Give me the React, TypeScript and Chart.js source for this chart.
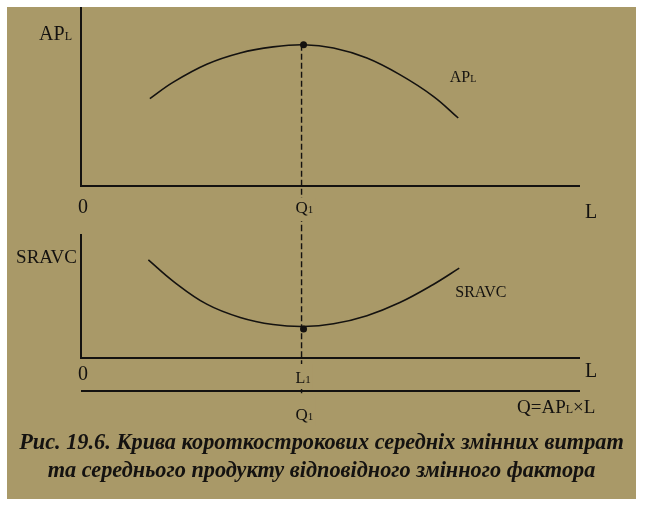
import React, { useEffect, useRef } from "react";
import { Chart, registerables } from "chart.js";

Chart.register(...registerables);

// ---- data (abstract units: labour L on x, AP_L / SRAVC on y) ----
const L_MIN = 0;
const L_MAX = 10;
const Q1 = 4.42;

const apL = [1.38, 1.85, 2.52, 3.19, 3.85, 4.46, 5.06, 5.73, 6.39, 7.06, 7.56];
const apValues = [4.88, 5.8, 6.8, 7.43, 7.77, 7.89, 7.71, 7.15, 6.22, 5.01, 3.8];
const apPeak = { x: 4.46, y: 7.89 };
const AP_MAX = 10;

const sravcL = [1.35, 1.85, 2.52, 3.19, 3.85, 4.46, 5.06, 5.73, 6.39, 7.06, 7.58];
const sravcValues = [5.54, 4.33, 3.04, 2.29, 1.89, 1.78, 1.93, 2.39, 3.13, 4.15, 5.07];
const sravcMin = { x: 4.46, y: 1.64 };
const SRAVC_MAX = 7;

const apLabelAnchor = { x: 7.39, y: 5.81 };
const sravcLabelAnchor = { x: 7.5, y: 3.44 };

const CAPTION_1 = "Рис. 19.6. Крива короткострокових середніх змінних витрат";
const CAPTION_2 = "та середнього продукту відповідного змінного фактора";

const PANEL = "#a99968";
const INK = "#141210";
const FONT = '"Liberation Serif", "Times New Roman", serif';

type Run = [string, number];

function drawRuns(
  ctx: CanvasRenderingContext2D,
  x: number,
  y: number,
  runs: Run[],
  align: "left" | "right" | "center",
  bg?: [number, number, number, number]
) {
  let total = 0;
  const widths: number[] = [];
  for (const [t, s] of runs) {
    ctx.font = `${s}px ${FONT}`;
    const w = ctx.measureText(t).width;
    widths.push(w);
    total += w;
  }
  let sx = x;
  if (align === "right") sx = x - total;
  if (align === "center") sx = x - total / 2;
  if (bg) {
    ctx.fillStyle = PANEL;
    ctx.fillRect(sx - bg[0], y - bg[1], total + bg[0] + bg[2], bg[1] + bg[3]);
  }
  ctx.fillStyle = INK;
  ctx.textBaseline = "alphabetic";
  ctx.textAlign = "left";
  runs.forEach(([t, s], i) => {
    ctx.font = `${s}px ${FONT}`;
    ctx.fillText(t, sx, y);
    sx += widths[i];
  });
}

function axesPlugin(kind: "top" | "bottom") {
  return {
    id: "econAxes" + kind,
    beforeDatasetsDraw(chart: any) {
      const { ctx, scales } = chart;
      const xs = scales.x;
      const ys = scales.y;
      const x0 = xs.getPixelForValue(L_MIN);
      const x1 = xs.getPixelForValue(L_MAX);
      const y0 = ys.getPixelForValue(0);
      const yT = ys.getPixelForValue(ys.max);
      ctx.save();
      ctx.strokeStyle = INK;
      ctx.lineWidth = 2;
      ctx.beginPath();
      ctx.moveTo(x0, yT);
      ctx.lineTo(x0, y0);
      ctx.lineTo(x1, y0);
      if (kind === "bottom") {
        ctx.moveTo(x0, y0 + 33);
        ctx.lineTo(x1, y0 + 33);
      }
      ctx.stroke();
      ctx.restore();
    },
    afterDatasetsDraw(chart: any) {
      const { ctx, scales } = chart;
      const xs = scales.x;
      const ys = scales.y;
      const x0 = xs.getPixelForValue(L_MIN);
      const x1 = xs.getPixelForValue(L_MAX);
      const y0 = ys.getPixelForValue(0);
      const yT = ys.getPixelForValue(ys.max);
      const qx = xs.getPixelForValue(Q1);
      ctx.save();
      if (kind === "top") {
        drawRuns(ctx, x0 - 9, yT + 33, [["AP", 20], ["L", 12]], "right");
        drawRuns(ctx, x0 + 2, y0 + 27, [["0", 20]], "center");
        drawRuns(ctx, qx - 6, y0 + 27, [["Q", 17], ["1", 11]], "left", [2, 15, 2, 8]);
        drawRuns(ctx, x1 + 5, y0 + 32, [["L", 20]], "left");
        drawRuns(
          ctx,
          xs.getPixelForValue(apLabelAnchor.x),
          ys.getPixelForValue(apLabelAnchor.y),
          [["AP", 16], ["L", 10]],
          "left"
        );
      } else {
        drawRuns(ctx, x0 - 4, yT + 29, [["SRAVC", 19]], "right");
        drawRuns(
          ctx,
          xs.getPixelForValue(sravcLabelAnchor.x),
          ys.getPixelForValue(sravcLabelAnchor.y),
          [["SRAVC", 16]],
          "left"
        );
        drawRuns(ctx, x0 + 2, y0 + 22, [["0", 20]], "center");
        drawRuns(ctx, qx - 6, y0 + 25, [["L", 16], ["1", 11]], "left", [2, 19, 2, 6]);
        drawRuns(ctx, x1 + 5, y0 + 19, [["L", 20]], "left");
        drawRuns(ctx, qx - 6, y0 + 62, [["Q", 17], ["1", 11]], "left", [2, 24, 2, 6]);
        drawRuns(ctx, x1 - 63, y0 + 55, [["Q=AP", 19], ["L", 12], ["×L", 19]], "left");
      }
      ctx.restore();
    },
  };
}

function makeConfig(kind: "top" | "bottom"): any {
  const isTop = kind === "top";
  const curve = isTop
    ? apL.map((x, i) => ({ x, y: apValues[i] }))
    : sravcL.map((x, i) => ({ x, y: sravcValues[i] }));
  const dot = isTop ? apPeak : sravcMin;
  const dashed = isTop
    ? [
        { x: Q1, y: apPeak.y },
        { x: Q1, y: -3 },
      ]
    : [
        { x: Q1, y: 8 },
        { x: Q1, y: -2.1 },
      ];
  return {
    type: "scatter",
    data: {
      datasets: [
        {
          data: dashed,
          showLine: true,
          borderColor: INK,
          borderWidth: 1.4,
          borderDash: [6, 3],
          pointRadius: 0,
          clip: false,
        },
        {
          data: curve,
          showLine: true,
          borderColor: INK,
          borderWidth: 1.6,
          tension: 0.4,
          pointRadius: 0,
        },
        {
          data: [dot],
          pointRadius: 3.5,
          pointBackgroundColor: INK,
          pointBorderWidth: 0,
          clip: false,
        },
      ],
    },
    options: {
      responsive: false,
      animation: false,
      events: [],
      layout: isTop
        ? { padding: { left: 81, right: 65, top: 7, bottom: 44 } }
        : { padding: { left: 81, right: 65, top: 2, bottom: 72 } },
      plugins: { legend: { display: false }, tooltip: { enabled: false } },
      scales: {
        x: { type: "linear", min: L_MIN, max: L_MAX, display: false },
        y: { type: "linear", min: 0, max: isTop ? AP_MAX : SRAVC_MAX, display: false },
      },
    },
    plugins: [axesPlugin(kind)],
  };
}

function DiagramCanvas({ kind, top, height }: { kind: "top" | "bottom"; top: number; height: number }) {
  const ref = useRef<HTMLCanvasElement | null>(null);
  useEffect(() => {
    if (!ref.current) return;
    const chart = new Chart(ref.current, makeConfig(kind));
    return () => chart.destroy();
  }, [kind]);
  return (
    <canvas
      ref={ref}
      width={645}
      height={height}
      style={{ position: "absolute", left: 0, top, width: 645, height }}
    />
  );
}

export default function App() {
  return (
    <div
      style={{
        position: "absolute",
        left: 0,
        top: 0,
        width: 645,
        height: 506,
        background: "#ffffff",
        overflow: "hidden",
      }}
    >
      <div
        style={{
          position: "absolute",
          left: 7,
          top: 7,
          width: 629,
          height: 492,
          background: PANEL,
        }}
      />
      <DiagramCanvas kind="top" top={0} height={230} />
      <DiagramCanvas kind="bottom" top={230} height={200} />
      <div
        style={{
          position: "absolute",
          left: 7,
          top: 428,
          width: 629,
          textAlign: "center",
          fontFamily: FONT,
          fontWeight: "bold",
          fontStyle: "italic",
          fontSize: 22.3,
          lineHeight: "28px",
          color: INK,
          whiteSpace: "nowrap",
        }}
      >
        <div>{CAPTION_1}</div>
        <div>{CAPTION_2}</div>
      </div>
    </div>
  );
}
